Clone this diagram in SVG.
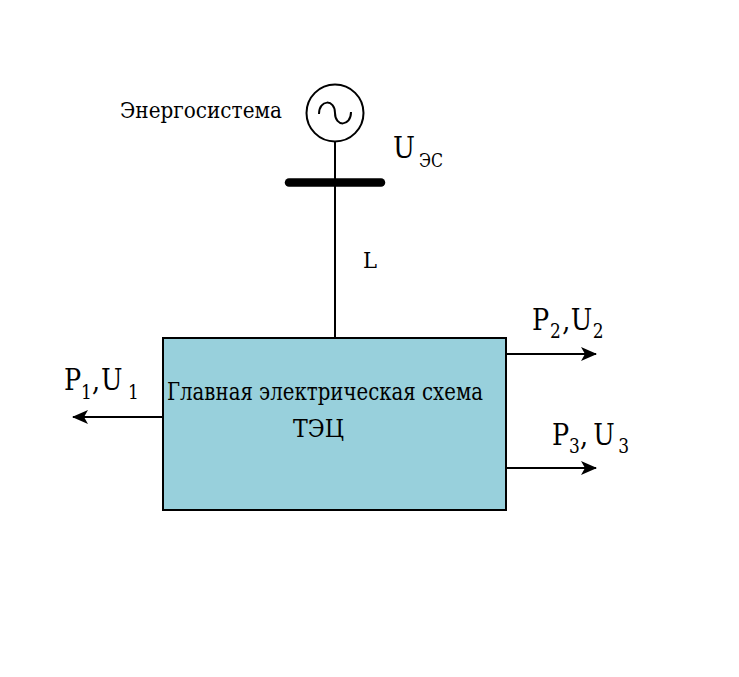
<svg xmlns="http://www.w3.org/2000/svg" width="739" height="677" viewBox="0 0 739 677">
<style>
.t{font-family:"DejaVu Serif","Liberation Serif",serif;fill:#000}
.ln{stroke:#000;stroke-width:2;fill:none}
.big{font-size:30px}
.sub{font-size:20px}
</style>
<defs>
<marker id="ah" viewBox="0 0 16 14" refX="15" refY="7" markerWidth="16" markerHeight="14" markerUnits="userSpaceOnUse" orient="auto"><path d="M0,0 L16,7 L0,14 L4,7 Z" fill="#000"/></marker>
</defs>
<rect width="739" height="677" fill="#fff"/>
<g id="connectors">
<line class="ln" x1="335" y1="141" x2="335" y2="338"/>
<line class="ln" x1="163" y1="417" x2="73" y2="417" marker-end="url(#ah)"/>
<line class="ln" x1="506" y1="354" x2="596" y2="354" marker-end="url(#ah)"/>
<line class="ln" x1="506" y1="468" x2="596" y2="468" marker-end="url(#ah)"/>
</g>
<g id="generator">
<circle cx="335" cy="113" r="28.5" fill="#fff" stroke="#000" stroke-width="2"/>
<path class="ln" d="M319,114 C319,99 335,99 335,113 C335,127 351,127 351,112"/>
<text class="t" x="120" y="118" font-size="22" textLength="162" lengthAdjust="spacingAndGlyphs">Энергосистема</text>
</g>
<g id="bus">
<line x1="289" y1="182.5" x2="381" y2="182.5" stroke="#000" stroke-width="8.5" stroke-linecap="round"/>
<text class="t" x="393" y="158" font-size="29" textLength="22" lengthAdjust="spacingAndGlyphs">U</text>
<text class="t" x="419" y="167" font-size="19" textLength="24" lengthAdjust="spacingAndGlyphs">ЭС</text>
</g>
<text class="t" x="363" y="268" font-size="22" textLength="14" lengthAdjust="spacingAndGlyphs">L</text>
<g id="tec">
<rect x="163" y="338" width="343" height="172" fill="#98d0dc" stroke="#000" stroke-width="2"/>
<text class="t" x="167" y="400" font-size="24" textLength="316" lengthAdjust="spacingAndGlyphs">Главная электрическая схема</text>
<text class="t" x="293" y="437" font-size="24" textLength="51" lengthAdjust="spacingAndGlyphs">ТЭЦ</text>
</g>
<g id="label-p1">
<text class="t big" transform="translate(64,390) scale(0.85,1)"><tspan x="0" y="0">P</tspan><tspan class="sub" x="20" y="9">1</tspan><tspan x="33" y="0">,</tspan><tspan x="43.5" y="0">U</tspan><tspan class="sub" x="75.3" y="9">1</tspan></text>
</g>
<g id="label-p2">
<text class="t big" transform="translate(532,330) scale(0.85,1)"><tspan x="0" y="0">P</tspan><tspan class="sub" x="21.2" y="8">2</tspan><tspan x="35.5" y="0">,</tspan><tspan x="45.5" y="0">U</tspan><tspan class="sub" x="71.5" y="8">2</tspan></text>
</g>
<g id="label-p3">
<text class="t big" transform="translate(552,445) scale(0.85,1)"><tspan x="0" y="0">P</tspan><tspan class="sub" x="20" y="8">3</tspan><tspan x="33" y="0">,</tspan><tspan x="48.5" y="0">U</tspan><tspan class="sub" x="78" y="8">3</tspan></text>
</g>
</svg>
